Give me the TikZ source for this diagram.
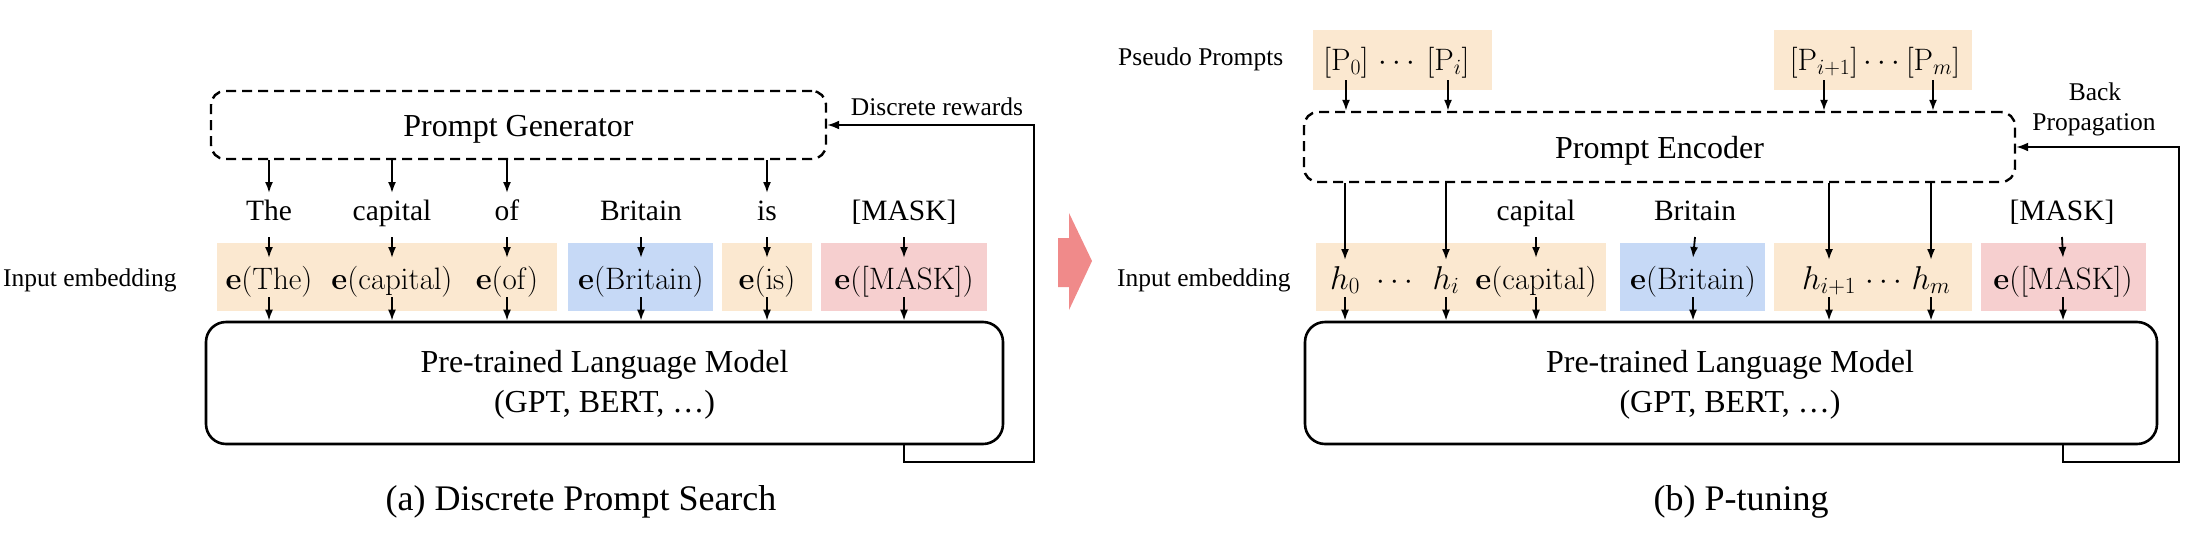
\RequirePackage{fix-cm}
\documentclass[tikz,border=0pt]{standalone}
\usepackage[no-math]{fontspec}
\setmainfont{Liberation Serif}
\usetikzlibrary{arrows.meta,calc}
\definecolor{peach}{RGB}{251,232,208}
\definecolor{lblue}{RGB}{198,217,246}
\definecolor{lpink}{RGB}{246,207,207}
\definecolor{salmon}{RGB}{240,138,138}
\begin{document}
\begin{tikzpicture}[x=1pt,y=-1pt,
  arr/.style={line width=1.8pt,-{Latex[length=11pt,width=8pt]}},
  fbline/.style={line width=2pt,-{Latex[length=12pt,width=9pt]}},
  dbox/.style={draw,dash pattern=on 10pt off 6pt,line width=2.4pt,rounded corners=14pt,inner sep=0pt,
    text height=22pt,text depth=0pt,font=\fontsize{32}{40}\selectfont},
  lmbox/.style={draw,line width=2.6pt,rounded corners=20pt,inner sep=0pt},
  fillbox/.style={inner sep=0pt,draw=none,minimum height=68pt},
  word/.style={font=\fontsize{29.5}{34}\selectfont,anchor=base,inner sep=0pt},
  emb/.style={font=\fontsize{31}{36}\selectfont,anchor=base,inner sep=0pt},
  hemb/.style={font=\fontsize{33}{38}\selectfont,anchor=base,inner sep=0pt},
  lab/.style={font=\fontsize{25.5}{31}\selectfont,anchor=base,inner sep=0pt},
  bigtxt/.style={font=\fontsize{32}{40}\selectfont,anchor=base,inner sep=0pt},
  captxt/.style={font=\fontsize{36}{42}\selectfont,anchor=base,inner sep=0pt},
]
\useasboundingbox (0,0) rectangle (2210,552);

% ---------- coloured backgrounds ----------
\node[fillbox,fill=peach,minimum width=340pt] (bL1) at (387,277) {};
\node[fillbox,fill=lblue,minimum width=145pt] (bL2) at (640.5,277) {};
\node[fillbox,fill=peach,minimum width=90pt]  (bL3) at (767,277) {};
\node[fillbox,fill=lpink,minimum width=166pt] (bL4) at (904,277) {};
\node[fillbox,fill=peach,minimum width=290pt] (bR1) at (1461,277) {};
\node[fillbox,fill=lblue,minimum width=145pt] (bR2) at (1692.5,277) {};
\node[fillbox,fill=peach,minimum width=198pt] (bR3) at (1873,277) {};
\node[fillbox,fill=lpink,minimum width=165pt] (bR4) at (2063.5,277) {};
\node[fillbox,fill=peach,minimum width=179pt,minimum height=60pt] (bP1) at (1402.5,60) {};
\node[fillbox,fill=peach,minimum width=198pt,minimum height=60pt] (bP2) at (1873,60) {};

% ---------- (a) Discrete Prompt Search ----------
\node[dbox,minimum width=615pt,minimum height=68pt] (pg) at (518.5,125) {Prompt Generator};

\node[word] (wThe)  at (269,220) {The};
\node[word] (wcap)  at (392,220) {capital};
\node[word] (wof)   at (507,220) {of};
\node[word] (wBri)  at (641,220) {Britain};
\node[word] (wis)   at (767,220) {is};
\node[word] (wmask) at (904,220) {[MASK]};

\node[lab,anchor=base west] (inL) at (3,286) {Input embedding};
\node[emb] (eThe)  at (269,289) {$\mathbf{e}(\mathrm{The})$};
\node[emb] (ecap)  at (392,289) {$\mathbf{e}(\mathrm{capital})$};
\node[emb] (eof)   at (507,289) {$\mathbf{e}(\mathrm{of})$};
\node[emb] (eBri)  at (641,289) {$\mathbf{e}(\mathrm{Britain})$};
\node[emb] (eis)   at (767,289) {$\mathbf{e}(\mathrm{is})$};
\node[emb] (emask) at (904,289) {$\mathbf{e}([\mathrm{MASK}])$};

\node[lmbox,minimum width=797pt,minimum height=122pt] (plmL) at (604.5,383) {};
\node[bigtxt] (plmLa) at (604.5,372) {Pre-trained Language Model};
\node[bigtxt] (plmLb) at (604.5,412) {(GPT, BERT, …)};

\node[lab] (rew) at (937,115) {Discrete rewards};
\node[captxt] (capA) at (581,510) {(a) Discrete Prompt Search};

\foreach \w in {wThe,wcap,wof,wis}
  \draw[arr] (pg.south -| \w.base) -- ([yshift=27pt]\w.base);
\foreach \w/\e in {wThe/eThe,wcap/ecap,wof/eof,wBri/eBri,wis/eis,wmask/emask}{
  \draw[arr] ([yshift=-17pt]\w.base) -- ([yshift=31pt]\e.base);
  \draw[arr] ([yshift=-8pt]\e.base) -- (plmL.north -| \e.base);
}
\coordinate (fbL) at (1034,462);
\draw[fbline] (plmL.south -| emask.base) |- (fbL) |- (pg.east);

% ---------- big arrow ----------
\fill[salmon] (1058,238) -- (1069,238) -- (1069,213) -- (1092,261) -- (1069,310) -- (1069,287) -- (1058,287) -- cycle;

% ---------- (b) P-tuning ----------
\node[lab,anchor=base west] (pseudo) at (1118,65) {Pseudo Prompts};
\node[emb] (P0)   at (1346,70) {$[\mathrm{P}_0]$};
\node[emb] (Pd1)  at (1397,70) {$\cdots$};
\node[emb] (Pi)   at (1448,70) {$[\mathrm{P}_i]$};
\node[emb] (Pip1) at (1824,70) {$[\mathrm{P}_{i+1}]$};
\node[emb] (Pd2)  at (1882,70) {$\cdots$};
\node[emb] (Pm)   at (1933,70) {$[\mathrm{P}_m]$};

\node[dbox,minimum width=711pt,minimum height=70pt] (pe) at (1659.5,147) {Prompt Encoder};

\node[lab] (back) at (2095,100) {Back};
\node[lab] (prop) at (2094,130) {Propagation};

\node[word] (wcapR)  at (1536,220) {capital};
\node[word] (wBriR)  at (1695,220) {Britain};
\node[word] (wmaskR) at (2062,220) {[MASK]};

\node[lab,anchor=base west] (inR) at (1117,286) {Input embedding};
\node[hemb] (h0)    at (1345,289) {$h_0$};
\node[emb] (hd1)    at (1395,289) {$\cdots$};
\node[hemb] (hi)    at (1446,289) {$h_i$};
\node[emb] (ecapR)  at (1536,289) {$\mathbf{e}(\mathrm{capital})$};
\node[emb] (eBriR)  at (1693,289) {$\mathbf{e}(\mathrm{Britain})$};
\node[hemb] (hip1)  at (1829,289) {$h_{i+1}$};
\node[emb] (hd2)    at (1884,289) {$\cdots$};
\node[hemb] (hm)    at (1931,289) {$h_m$};
\node[emb] (emaskR) at (2063,289) {$\mathbf{e}([\mathrm{MASK}])$};

\node[lmbox,minimum width=852pt,minimum height=122pt] (plmR) at (1731,383) {};
\node[bigtxt] (plmRa) at (1730,372) {Pre-trained Language Model};
\node[bigtxt] (plmRb) at (1730,412) {(GPT, BERT, …)};

\node[captxt] (capB) at (1741,510) {(b) P-tuning};

\foreach \p in {P0,Pi,Pip1,Pm}
  \draw[arr] ([yshift=-10pt]\p.base) -- (pe.north -| \p.base);
\foreach \h in {h0,hi,hip1,hm}
  \draw[arr] (pe.south -| \h.base) -- ([yshift=29pt]\h.base);
\foreach \w/\e in {wcapR/ecapR,wBriR/eBriR,wmaskR/emaskR}
  \draw[arr] ([yshift=-17pt]\w.base) -- ([yshift=31pt]\e.base);
\foreach \e in {h0,hi,ecapR,eBriR,hip1,hm,emaskR}
  \draw[arr] ([yshift=-8pt]\e.base) -- (plmR.north -| \e.base);
\coordinate (fbR) at (2179,462);
\draw[fbline] (plmR.south -| emaskR.base) |- (fbR) |- (pe.east);
\end{tikzpicture}
\end{document}
